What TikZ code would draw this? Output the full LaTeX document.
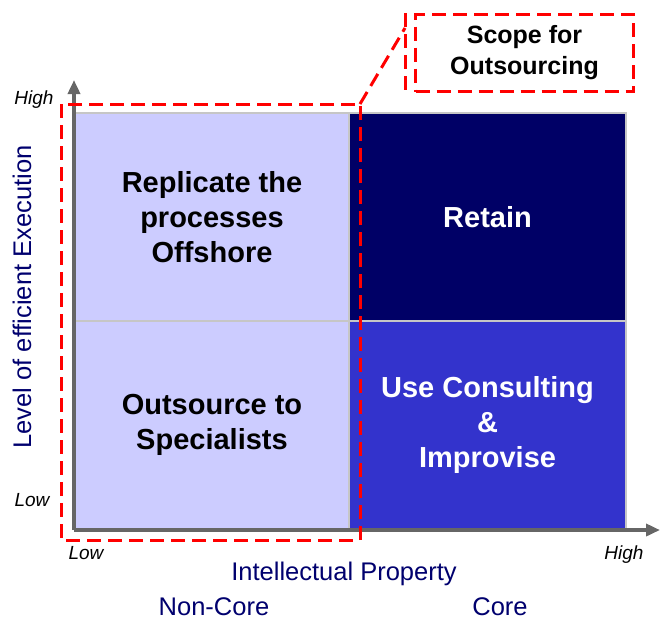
\documentclass[tikz,border=0pt]{standalone}
\usepackage{fontspec}
\setmainfont{Liberation Sans}
\usepackage{tikz}
\usetikzlibrary{arrows.meta,positioning,calc}
\definecolor{cellpale}{RGB}{204,204,255}
\definecolor{celldark}{RGB}{0,0,102}
\definecolor{cellmid}{RGB}{51,51,204}
\definecolor{labelnavy}{RGB}{0,0,110}
\definecolor{axisgrey}{RGB}{102,102,102}
\definecolor{scopered}{RGB}{255,0,0}

\begin{document}
\begin{tikzpicture}[x=1pt, y=-1pt,
    cell/.style={rectangle, draw=gray!45, line width=1.5pt, inner sep=0pt, outer sep=0pt,
                 minimum width=274pt, minimum height=208pt, anchor=north west, align=center,
                 font=\fontsize{29}{35}\selectfont\bfseries},
    axis/.style={draw=axisgrey, line width=4pt, -{Triangle[length=14pt,width=12pt]}},
    tick/.style={font=\fontsize{19}{22}\selectfont\itshape, text=black},
    title/.style={font=\fontsize{25.5}{30}\selectfont, text=labelnavy},
    outline/.style={draw=scopered, line width=3pt, dash pattern=on 14pt off 7pt}
]
    \useasboundingbox (0,0) rectangle (660,622);

    % the four quadrants
    \node[cell, fill=cellpale] (repl) at (75,113) {Replicate the\\processes\\Offshore};
    \node[cell, fill=celldark, text=white, minimum width=277pt] (retain) at (349,113) {Retain};
    \node[cell, fill=cellpale] (spec) at (75,321) {Outsource to\\Specialists};
    \node[cell, fill=cellmid, text=white, minimum width=277pt] (consult) at (349,321) {Use Consulting\\\&\\Improvise};

    % axes
    \coordinate (origin) at (74,530);
    \coordinate (ytop) at (74,80);
    \coordinate (xend) at (660,530);
    \draw[axis] (origin) -- (ytop);
    \draw[axis] (origin) -- (xend);

    \node[tick] (yhigh) at (34,100) {High};
    \node[tick] (ylow) at (32,500) {Low};
    \node[tick] (xlow) at (86,553) {Low};
    \node[tick] (xhigh) at (624,555) {High};
    \node[title, rotate=90] (ytitle) at (22,297) {Level of efficient Execution};
    \node[title] (xtitle) at (344,574) {Intellectual Property};
    \node[title] (noncore) at (214,607) {Non-Core};
    \node[title] (core) at (500,607) {Core};

    % outsourcing scope
    \draw[outline] (61,104) rectangle (360,540);
    \coordinate (scopecorner) at (360,104);
    \node[outline, rectangle, minimum width=218pt, minimum height=77pt, inner sep=0pt,
          anchor=north west, align=center, font=\fontsize{25}{31}\selectfont\bfseries]
          (scope) at (414,13) {Scope for\\Outsourcing};
    \coordinate (scopeedge) at ($(scope.north west)+(-9,0)$);
    \draw[outline] (scopeedge) -- ($(scope.south west)+(-9,0)$);
    \draw[outline] (scopecorner) -- ($(scopeedge)+(0,15)$);
\end{tikzpicture}
\end{document}
